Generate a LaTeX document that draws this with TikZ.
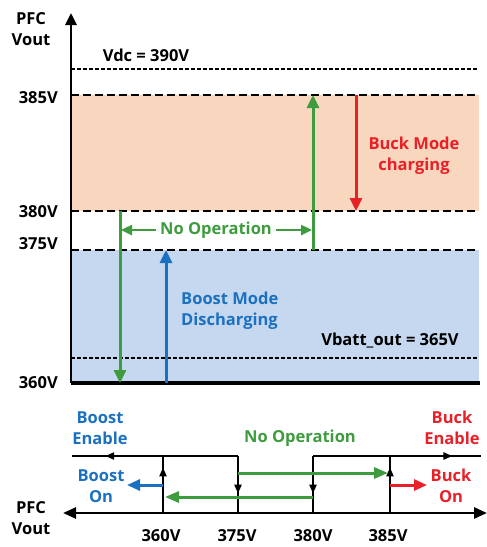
\documentclass[tikz,border=0pt]{standalone}
\usepackage{fontspec}
\setmainfont{Open Sans}
\usetikzlibrary{arrows.meta,decorations.markings}
\definecolor{buckred}{RGB}{232,32,40}
\definecolor{boostblue}{RGB}{28,112,192}
\definecolor{noopgreen}{RGB}{62,156,62}
\definecolor{buckfill}{RGB}{249,214,190}
\definecolor{boostfill}{RGB}{198,216,240}
\begin{document}
\begin{tikzpicture}
  [x=1pt, y=-1pt, font=\bfseries\fontsize{16.5}{21}\selectfont,
   lbl/.style={align=center, inner sep=0pt},
   level line/.style={line width=2.5pt, dash pattern=on 7.5pt off 4.5pt},
   ref line/.style={line width=1.2pt, dash pattern=on 3.5pt off 2.5pt},
   big arrow/.style={line width=3pt, -{Triangle[length=13pt,width=12pt]}},
   wire/.style={line width=2.2pt},
   mid tip/.style={postaction=decorate, decoration={markings,
       mark=at position #1 with {\arrow{Triangle[length=9pt,width=7pt]}}}}]

  \useasboundingbox (0,0) rectangle (487,547);

  % mode bands
  \fill[buckfill] (71,95) rectangle (479,211);
  \fill[boostfill] (71,250) rectangle (479,383);

  % voltage levels
  \draw[ref line] (71,69) -- (478,69);
  \draw[level line] (71,95) -- (478,95);
  \draw[level line] (71,211) -- (478,211);
  \draw[level line] (71,250) -- (478,250);
  \draw[ref line] (71,358) -- (478,358);

  % axes of the level chart
  \coordinate (o) at (71,383);
  \coordinate (ytip) at (71,13);
  \coordinate (xend) at (480,383);
  \draw[line width=2.8pt, -{Triangle[length=12pt,width=11pt]}] (o) -- (ytip);
  \draw[line width=3.2pt] (o) -- (xend);

  \node[lbl] (yname) at (31,29) {PFC\\Vout};
  \node[lbl, anchor=east] (l385) at (58,98) {385V};
  \node[lbl, anchor=east] (l380) at (58,212) {380V};
  \node[lbl, anchor=east] (l375) at (58,244) {375V};
  \node[lbl, anchor=east] (l360) at (58,383) {360V};
  \node[lbl] (vdc) at (146,55) {Vdc = 390V};
  \node[lbl] (vbatt) at (390,341) {Vbatt\_out = 365V};

  % transitions
  \coordinate (g1a) at (120,211);
  \coordinate (g1b) at (120,383);
  \coordinate (b1a) at (166,383);
  \coordinate (b1b) at (166,250);
  \coordinate (g2a) at (313,250);
  \coordinate (g2b) at (313,95);
  \coordinate (r1a) at (356,95);
  \coordinate (r1b) at (356,211);
  \draw[big arrow, noopgreen] (g1a) -- (g1b);
  \draw[big arrow, boostblue] (b1a) -- (b1b);
  \draw[big arrow, noopgreen] (g2a) -- (g2b);
  \draw[big arrow, buckred] (r1a) -- (r1b);

  \node[lbl, text=noopgreen] (noop) at (216,230) {No Operation};
  \coordinate (nl) at (121,230);
  \coordinate (nr) at (312,230);
  \draw[line width=2.4pt, noopgreen, -{Triangle[length=11pt,width=10pt]}] ([xshift=-4pt]noop.west) -- (nl);
  \draw[line width=2.4pt, noopgreen, -{Triangle[length=11pt,width=10pt]}] ([xshift=4pt]noop.east) -- (nr);

  \node[lbl, text=buckred] (buckmode) at (414,156) {Buck Mode\\charging};
  \node[lbl, text=boostblue, align=left, anchor=north west] (boostmode) at (181,292) {Boost Mode\\Discharging};

  % hysteresis chart
  \coordinate (hl) at (63,513);
  \coordinate (hr) at (487,513);
  \draw[line width=2.6pt, {Triangle[length=13pt,width=11pt]}-{Triangle[length=13pt,width=11pt]}] (hl) -- (hr);
  \node[lbl] (xname) at (31,518) {PFC\\Vout};
  \node[lbl] (t360) at (161,536) {360V};
  \node[lbl] (t375) at (237,536) {375V};
  \node[lbl] (t380) at (313,536) {380V};
  \node[lbl] (t385) at (388,536) {385V};

  \coordinate (a360) at (163,513);
  \coordinate (a375) at (238,513);
  \coordinate (a380) at (313,513);
  \coordinate (a385) at (390,513);
  \coordinate (e360) at (163,456);
  \coordinate (e375) at (238,456);
  \coordinate (e380) at (313,456);
  \coordinate (e385) at (390,456);
  \coordinate (eleft) at (72,456);
  \coordinate (eright) at (481,456);

  \draw[wire, mid tip=0.8] (e375) -- (eleft);
  \draw[wire, mid tip=0.8] (a360) -- (e360);
  \draw[wire, mid tip=0.66] (e375) -- (a375);
  \draw[wire, mid tip=0.83] (e380) -- (eright);
  \draw[wire, mid tip=0.66] (e380) -- (a380);
  \draw[wire, mid tip=0.8] (a385) -- (e385);

  \coordinate (gu) at (388,473);
  \coordinate (gd) at (165,497);
  \draw[line width=3pt, noopgreen, -{Triangle[length=14pt,width=11pt]}] (e375 |- gu) -- (gu);
  \draw[line width=3pt, noopgreen, -{Triangle[length=14pt,width=11pt]}] (e380 |- gd) -- (gd);
  \coordinate (bo) at (127,485);
  \coordinate (ro) at (427,485);
  \draw[line width=3pt, boostblue, -{Triangle[length=13pt,width=11pt]}] (e360 |- bo) -- (bo);
  \draw[line width=3pt, buckred, -{Triangle[length=13pt,width=11pt]}] (e385 |- ro) -- (ro);

  \node[lbl, text=boostblue] (boosten) at (100,428) {Boost\\Enable};
  \node[lbl, text=boostblue] (booston) at (101,486) {Boost\\On};
  \node[lbl, text=noopgreen] (noop2) at (300,438) {No Operation};
  \node[lbl, text=buckred] (bucken) at (452,428) {Buck\\Enable};
  \node[lbl, text=buckred] (buckon) at (451,486) {Buck\\On};
\end{tikzpicture}
\end{document}
